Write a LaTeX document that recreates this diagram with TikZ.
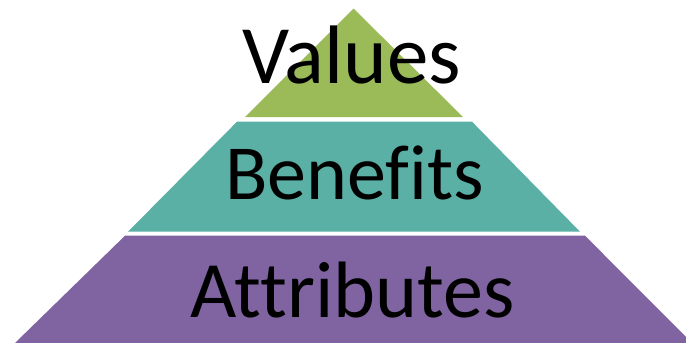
\documentclass[tikz,border=0pt]{standalone}
\usepackage{fontspec}
\setmainfont[Ligatures=NoCommon]{Carlito}
\definecolor{pgreen}{HTML}{9BBB59}
\definecolor{pteal}{HTML}{5BB0A6}
\definecolor{ppurple}{HTML}{8064A2}
\begin{document}
\begin{tikzpicture}[x=1pt,y=-1pt,
  lbl/.style={anchor=base,inner sep=0pt,text=black}]
\useasboundingbox (0,0) rectangle (686,343);
\fill[pgreen] (353.5,8.5) -- (463,117) -- (245,117) -- cycle;
\fill[pteal] (237,121.7) -- (472,121.7) -- (580,231.7) -- (128,231.7) -- cycle;
\fill[ppurple] (125,235.7) -- (585,235.7) -- (692,343) -- (15,343) -- cycle;
\node[lbl,font=\fontsize{83}{83}\selectfont] (values) at (351.5,83) {Values};
\node[lbl,font=\fontsize{78}{78}\selectfont] (benefits) at (354.5,199) {Benefits};
\node[lbl,font=\fontsize{80}{80}\selectfont] (attributes) at (352.5,317) {Attributes};
\end{tikzpicture}
\end{document}
